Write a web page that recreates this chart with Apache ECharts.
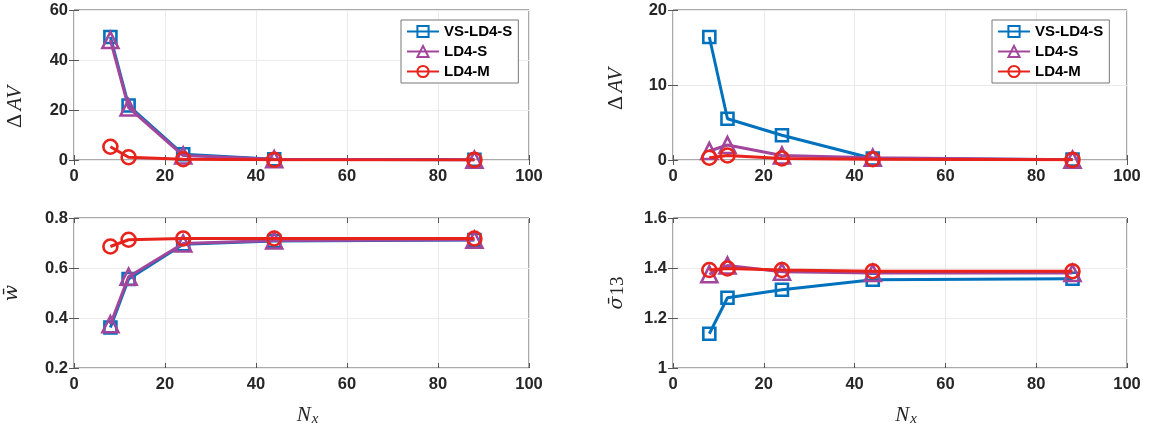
<!DOCTYPE html>
<html>
<head>
<meta charset="utf-8">
<script src="https://cdn.jsdelivr.net/npm/echarts@6/dist/echarts.min.js"></script>
<style>
  html, body { margin: 0; padding: 0; background: #fff; }
  #chart { width: 1151px; height: 435px; }
</style>
</head>
<body>
<div id="chart"></div>
<script>
// grid sizes along x (Nx)
var nx = [8, 12, 24, 44, 88];
var seriesNames = ["VS-LD4-S", "LD4-S", "LD4-M"];

// top left: Delta AV
var dav1_vs = [49.2, 21.8, 2.3, 0.3, 0.1];
var dav1_s = [48.0, 21.0, 1.8, 0.3, 0.1];
var dav1_m = [5.3, 1.1, 0.3, 0.1, 0.05];

// top right: Delta AV
var dav2_vs = [16.4, 5.5, 3.3, 0.2, 0.05];
var dav2_s = [1.2, 2.0, 0.6, 0.3, 0.05];
var dav2_m = [0.3, 0.6, 0.2, 0.1, 0.02];

// bottom left: w bar
var w_vs = [0.362, 0.556, 0.695, 0.708, 0.712];
var w_s = [0.375, 0.565, 0.698, 0.710, 0.713];
var w_m = [0.686, 0.713, 0.718, 0.718, 0.718];

// bottom right: sigma13 bar
var s13_vs = [1.137, 1.281, 1.313, 1.353, 1.357];
var s13_s = [1.375, 1.410, 1.385, 1.380, 1.380];
var s13_m = [1.392, 1.398, 1.392, 1.387, 1.387];

var colors = ["#0072BD", "#A2469B", "#E8231C"];
var symbols = ["rect", "triangle", "circle"];
var symbolSizes = [12, 16, 14];

var tickFont = { fontFamily: "Liberation Sans", fontWeight: "bold", fontSize: 16.5, color: "#262626" };
var mathFont = "Liberation Serif";

var grids = [
  { left: 74, top: 10, width: 455, height: 150 },
  { left: 673, top: 10, width: 454, height: 150 },
  { left: 74, top: 218, width: 455, height: 150 },
  { left: 673, top: 218, width: 454, height: 150 }
];
grids.forEach(function (g) {
  g.show = true;
  g.borderColor = "#555";
  g.borderWidth = 1;
  g.backgroundColor = "#fff";
});

var yRanges = [
  { min: 0, max: 60, interval: 20 },
  { min: 0, max: 20, interval: 10 },
  { min: 0.2, max: 0.8, interval: 0.2 },
  { min: 1, max: 1.6, interval: 0.2 }
];

// label text, gap from axis, right padding (shifts the rotated label down)
var yNames = [
  { text: "{d|Δ} {i|AV}", gap: 48, pad: 44 },
  { text: "{d|Δ} {i|AV}", gap: 46, pad: 8 },
  { text: "{b|w̄}", gap: 52, pad: 0 },
  { text: "{b|σ̄}{n|13}", gap: 45, pad: 0 }
];

var mathRich = {
  d: { fontFamily: mathFont, fontSize: 22, color: "#262626" },
  i: { fontFamily: mathFont, fontStyle: "italic", fontSize: 21, color: "#262626" },
  b: { fontFamily: "DejaVu Serif", fontStyle: "italic", fontSize: 19, color: "#262626" },
  s: { fontFamily: mathFont, fontStyle: "italic", fontSize: 15, color: "#262626", padding: [8, 0, 0, 1] },
  n: { fontFamily: mathFont, fontSize: 19, color: "#262626", padding: [3, 0, 0, 1] }
};

var xAxes = [];
var yAxes = [];
grids.forEach(function (g, k) {
  var bottomRow = k >= 2;
  xAxes.push({
    gridIndex: k, type: "value", min: 0, max: 100, interval: 20,
    name: bottomRow ? "{i|N}{s|x}" : "",
    nameLocation: "middle", nameGap: 36,
    nameTextStyle: { rich: mathRich, padding: [0, 0, 0, 12] },
    axisLine: { show: false },
    axisTick: { show: true, inside: true, length: 5, lineStyle: { color: "#555" } },
    axisLabel: Object.assign({ margin: 8 }, tickFont),
    splitLine: { show: true, lineStyle: { color: "#ebebeb", width: 1 } }
  });
  xAxes.push({
    gridIndex: k, type: "value", min: 0, max: 100, interval: 20, position: "top",
    axisLine: { show: false },
    axisTick: { show: true, inside: true, length: 5, lineStyle: { color: "#555" } },
    axisLabel: { show: false }, splitLine: { show: false }
  });
  var r = yRanges[k];
  yAxes.push({
    gridIndex: k, type: "value", min: r.min, max: r.max, interval: r.interval,
    name: yNames[k].text, nameLocation: "middle", nameGap: yNames[k].gap, nameRotate: 90,
    nameTextStyle: { rich: mathRich, padding: [0, yNames[k].pad, 0, 0] },
    axisLine: { show: false },
    axisTick: { show: true, inside: true, length: 5, lineStyle: { color: "#555" } },
    axisLabel: Object.assign({ margin: 6 }, tickFont),
    splitLine: { show: true, lineStyle: { color: "#ebebeb", width: 1 } }
  });
  yAxes.push({
    gridIndex: k, type: "value", min: r.min, max: r.max, interval: r.interval, position: "right",
    axisLine: { show: false },
    axisTick: { show: true, inside: true, length: 5, lineStyle: { color: "#555" } },
    axisLabel: { show: false }, splitLine: { show: false }
  });
});

var panelData = [
  [dav1_vs, dav1_s, dav1_m],
  [dav2_vs, dav2_s, dav2_m],
  [w_vs, w_s, w_m],
  [s13_vs, s13_s, s13_m]
];

var series = [];
panelData.forEach(function (sets, k) {
  sets.forEach(function (vals, j) {
    series.push({
      name: seriesNames[j],
      type: "line",
      xAxisIndex: 2 * k,
      yAxisIndex: 2 * k,
      data: nx.map(function (x, i) { return [x, vals[i]]; }),
      symbol: symbols[j],
      symbolSize: symbolSizes[j],
      showAllSymbol: true,
      lineStyle: { color: colors[j], width: 3 },
      itemStyle: { color: "rgba(255,255,255,0)", borderColor: colors[j], borderWidth: 2.6 },
      emphasis: { disabled: true },
      animation: false,
      z: 2 + j
    });
  });
});

function makeLegend(left) {
  return {
    left: left, top: 20,
    orient: "vertical",
    data: seriesNames,
    itemWidth: 32, itemHeight: 14, itemGap: 5,
    padding: [4, 6, 4, 5],
    borderColor: "#777", borderWidth: 1, backgroundColor: "#fff",
    textStyle: { fontFamily: "Liberation Sans", fontWeight: "bold", fontSize: 15, color: "#000" },
    selectedMode: false
  };
}

var chart = echarts.init(document.getElementById("chart"));
chart.setOption({
  animation: false,
  grid: grids,
  xAxis: xAxes,
  yAxis: yAxes,
  legend: [makeLegend(401), makeLegend(992)],
  series: series
});
</script>
</body>
</html>
